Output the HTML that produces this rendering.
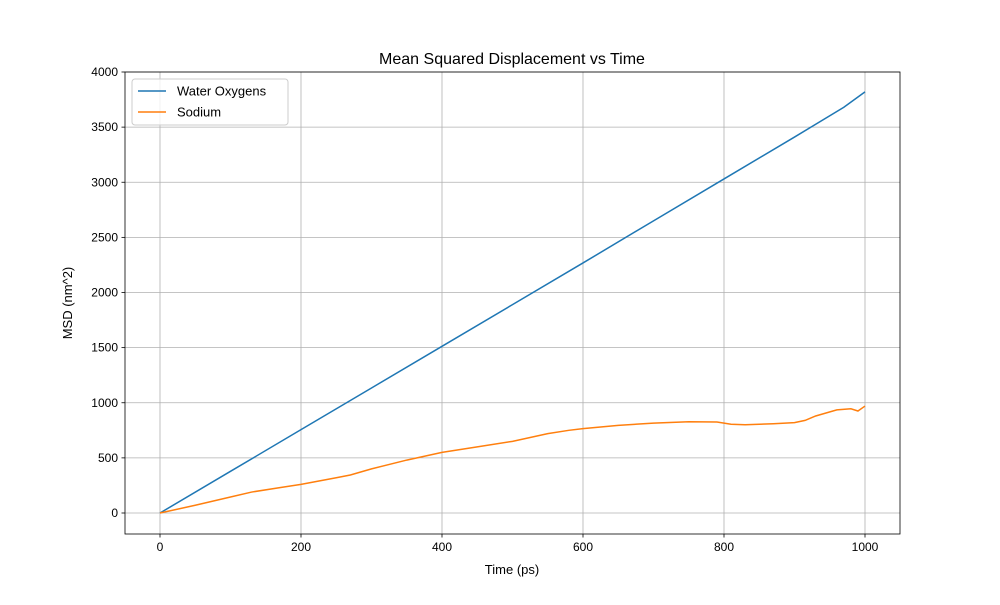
<!DOCTYPE html>
<html><head><meta charset="utf-8"><style>body{margin:0;background:#fff}svg{font-family:"Liberation Sans","DejaVu Sans",sans-serif}</style></head>
<body>
<svg id="chart" width="1000" height="600"></svg>
<script>
const xTicks=[0,200,400,600,800,1000];
const yTicks=[0,500,1000,1500,2000,2500,3000,3500,4000];
const waterTime=[0,100,200,300,400,500,600,700,800,900,970,1000];
const waterMSD=[0,378,756,1134,1512,1890,2268,2650,3030,3410,3680,3820];
const sodiumTime=[0,50,100,130,170,200,250,270,300,350,400,450,500,550,580,600,650,700,750,790,810,830,870,900,915,930,960,980,990,1000];
const sodiumMSD=[0,70,145,190,230,260,320,345,400,480,550,600,650,720,750,765,795,815,828,825,805,800,810,820,840,880,935,945,925,970];
const L=125,R=900,T=72,B=534;
const sx=v=>160+(v)*(865-160)/1000;
const sy=v=>513-v*(513-72)/4000;
const svg=document.getElementById('chart');
const NS='http://www.w3.org/2000/svg';
function mk(t,a,p){const e=document.createElementNS(NS,t);for(const k in a)e.setAttribute(k,a[k]);(p||svg).appendChild(e);return e;}
const grid=mk('g',{});


xTicks.forEach(v=>{const x=sx(v);mk('line',{x1:x,x2:x,y1:T,y2:B,stroke:'#b0b0b0','stroke-width':0.8},grid);
mk('line',{x1:x,x2:x,y1:B,y2:B+3.5,stroke:'#000','stroke-width':0.8});
const t=mk('text',{x:x,y:B+17,'text-anchor':'middle','font-size':12});t.textContent=v;

});
yTicks.forEach(v=>{const y=sy(v);mk('line',{x1:L,x2:R,y1:y,y2:y,stroke:'#b0b0b0','stroke-width':0.8},grid);
mk('line',{x1:L-3.5,x2:L,y1:y,y2:y,stroke:'#000','stroke-width':0.8});
const t=mk('text',{x:L-7,y:y+4,'text-anchor':'end','font-size':12});t.textContent=v;

});
function line(xs,ys,c,name){const p=mk('polyline',{points:xs.map((x,i)=>sx(x)+','+sy(ys[i])).join(' '),fill:'none',stroke:c,'stroke-width':1.5});

}
line(waterTime,waterMSD,'#1f77b4','water-oxygens-line');
line(sodiumTime,sodiumMSD,'#ff7f0e','sodium-line');
const fr=mk('rect',{x:L,y:T,width:R-L,height:B-T,fill:'none',stroke:'#000','stroke-width':0.8});


let t=mk('text',{x:512,y:64,'text-anchor':'middle','font-size':16});t.textContent='Mean Squared Displacement vs Time';


t=mk('text',{x:512,y:574,'text-anchor':'middle','font-size':13});t.textContent='Time (ps)';


t=mk('text',{x:72,y:303,'text-anchor':'middle','font-size':13,transform:'rotate(-90 72 303)'});t.textContent='MSD (nm^2)';


const lg=mk('g',{});


mk('rect',{x:132,y:79,width:156,height:46,rx:3,fill:'#fff','fill-opacity':0.8,stroke:'#ccc'},lg);
[['Water Oxygens','#1f77b4',91],['Sodium','#ff7f0e',112]].forEach(([n,c,y])=>{
mk('line',{x1:138,x2:166,y1:y,y2:y,stroke:c,'stroke-width':1.5},lg);
const e=mk('text',{x:177,y:y+4.5,'font-size':13},lg);e.textContent=n;

});
</script>
</body></html>
